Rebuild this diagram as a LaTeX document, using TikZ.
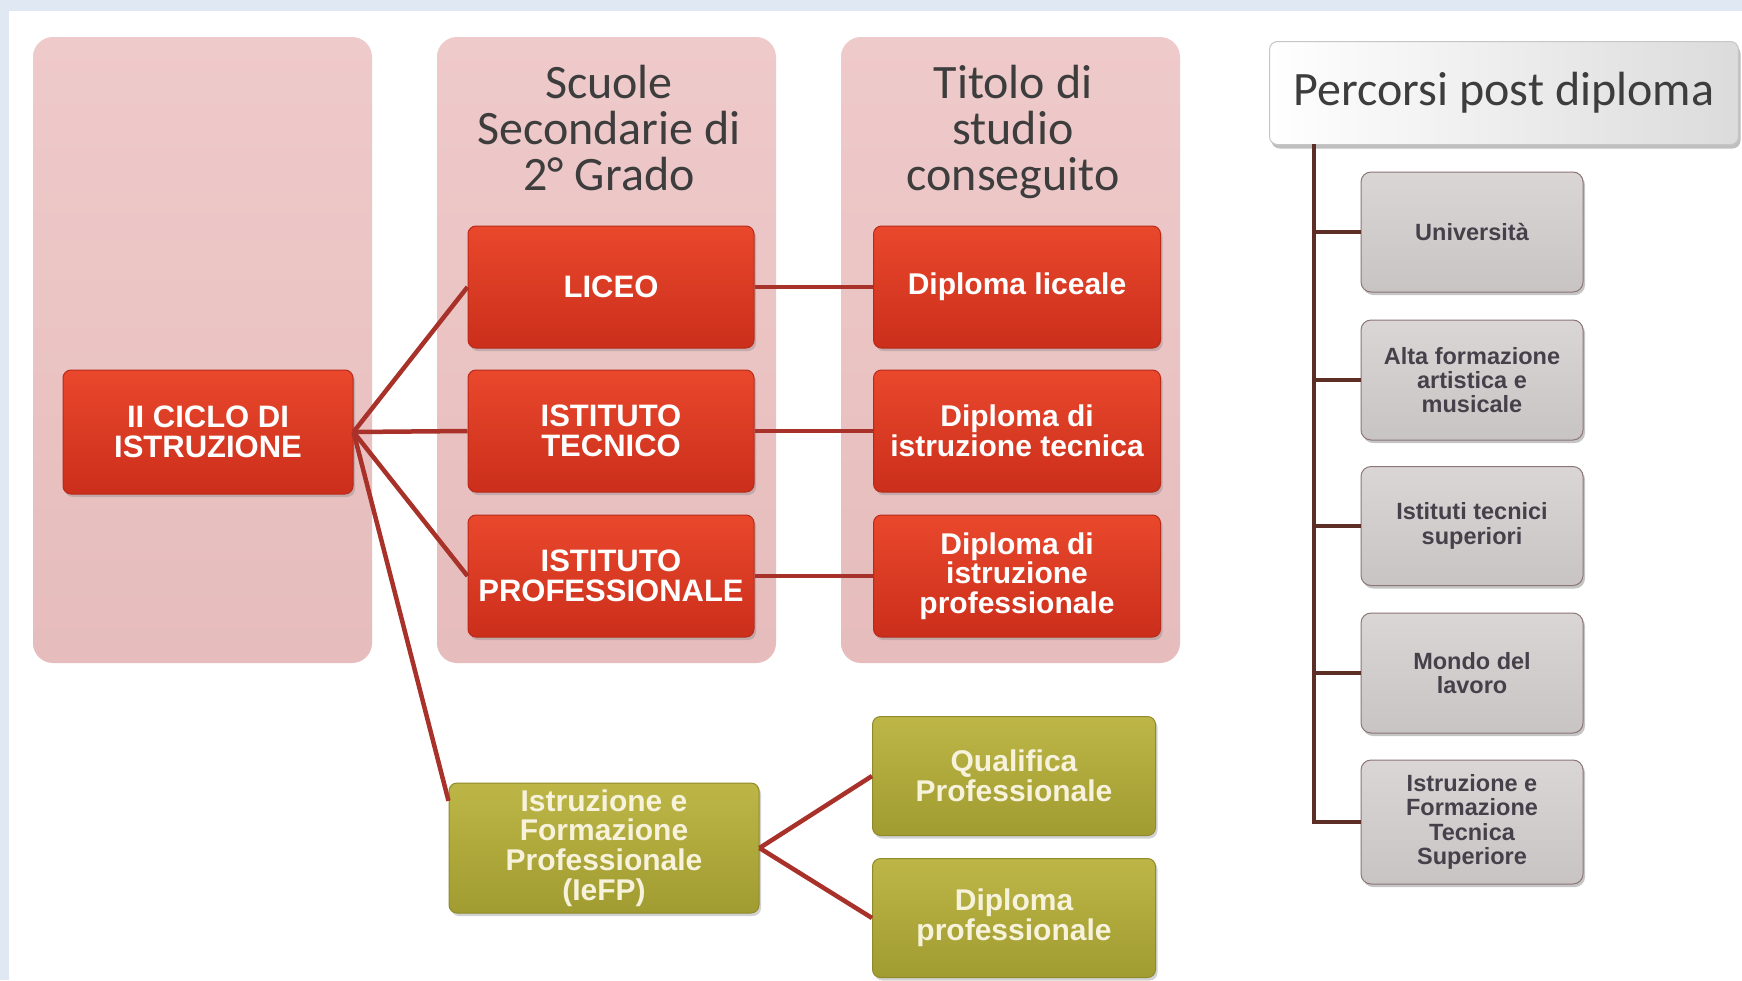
\documentclass[tikz,border=0pt]{standalone}
\usepackage{fontspec}
\newfontfamily\arialf{Liberation Sans}
\newfontfamily\calf{Carlito}
\usetikzlibrary{shadows,calc}
\definecolor{bgblue}{HTML}{E0E9F3}
\definecolor{panelT}{HTML}{EFCACA}
\definecolor{panelB}{HTML}{E6BCBC}
\definecolor{redT}{HTML}{E9482C}
\definecolor{redB}{HTML}{CB2E1B}
\definecolor{redE}{HTML}{B82A1A}
\definecolor{oliveT}{HTML}{BDB647}
\definecolor{oliveB}{HTML}{A19C31}
\definecolor{oliveE}{HTML}{8F8A2A}
\definecolor{connred}{HTML}{A8322A}
\definecolor{treebrown}{HTML}{5C2E26}
\definecolor{grayT}{HTML}{DAD6D6}
\definecolor{grayB}{HTML}{C9C4C4}
\definecolor{grayE}{HTML}{8C7676}
\definecolor{titlegray}{HTML}{3D3D3D}
\definecolor{boxtext}{HTML}{45404A}
\definecolor{creamtext}{HTML}{F6F2DC}
\tikzset{
  panel/.style={rounded corners=20pt, top color=panelT, bottom color=panelB, draw=none,
    minimum width=339pt, minimum height=626pt},
  title/.style={align=center, text=titlegray, font=\calf\fontsize{48}{46}\selectfont},
  rbox/.style={rounded corners=8pt, top color=redT, bottom color=redB, draw=redE, line width=1pt,
    minimum width=286pt, minimum height=122pt, align=center, text=white, inner sep=2pt,
    font=\arialf\bfseries\fontsize{30}{29.5}\selectfont,
    drop shadow={shadow xshift=2pt, shadow yshift=-3pt, opacity=0.35}},
  obox/.style={rounded corners=8pt, top color=oliveT, bottom color=oliveB, draw=oliveE, line width=1pt,
    minimum width=283pt, minimum height=119pt, align=center, text=creamtext, inner sep=2pt,
    font=\arialf\bfseries\fontsize{30}{29.6}\selectfont,
    drop shadow={shadow xshift=2pt, shadow yshift=-3pt, opacity=0.35}},
  gbox/.style={rounded corners=10pt, top color=grayT, bottom color=grayB, draw=grayE, line width=1pt,
    minimum width=222pt, minimum height=118pt, align=center, text=boxtext, inner sep=2pt,
    font=\arialf\bfseries\fontsize{23.5}{24.2}\selectfont,
    drop shadow={shadow xshift=2pt, shadow yshift=-3pt, opacity=0.45}},
  pbox/.style={rounded corners=8pt, left color=white, right color=gray!28, draw=gray!45, line width=1pt,
    minimum width=469pt, minimum height=103pt, align=center, text=titlegray,
    font=\calf\fontsize{48}{46}\selectfont,
    drop shadow={shadow xshift=2pt, shadow yshift=-4pt, opacity=0.5}},
  conn/.style={draw=connred, line width=4.5pt},
  tree/.style={draw=treebrown, line width=4.5pt}
}
\begin{document}
\begin{tikzpicture}[x=1pt,y=-1pt]
\useasboundingbox (0,0) rectangle (1742,980);
\fill[bgblue] (0,0) rectangle (1742,980);
\fill[white] (9,11) rectangle (1742,980);

% panels
\node[panel] (p1) at (202.5,350) {};
\node[panel] (p2) at (606.5,350) {};
\node[panel] (p3) at (1010.5,350) {};
\node[title] (t2) at (609,128) {Scuole\\Secondarie di\\2° Grado};
\node[title] (t3) at (1013,132) {Titolo di\\studio\\conseguito};

% red boxes
\node[rbox, minimum width=290pt, minimum height=124pt, font=\arialf\bfseries\fontsize{31}{29.5}\selectfont] (ciclo) at (208,432) {II CICLO DI\\ISTRUZIONE};
\node[rbox, font=\arialf\bfseries\fontsize{31}{29.5}\selectfont] (liceo) at (611,287) {LICEO};
\node[rbox, font=\arialf\bfseries\fontsize{31}{29.5}\selectfont] (itec) at (611,431) {ISTITUTO\\TECNICO};
\node[rbox, font=\arialf\bfseries\fontsize{31}{29.5}\selectfont] (iprof) at (611,576) {ISTITUTO\\PROFESSIONALE};
\node[rbox, minimum width=287pt] (dlic) at (1017,287) {Diploma liceale};
\node[rbox, minimum width=287pt] (dtec) at (1017,431) {Diploma di\\istruzione tecnica};
\node[rbox, minimum width=287pt] (dprof) at (1017,576) {Diploma di\\istruzione\\professionale};

% olive boxes
\node[obox, minimum width=310pt, minimum height=130pt] (ief) at (604,848) {Istruzione e\\Formazione\\Professionale\\(IeFP)};
\node[obox] (qual) at (1014,776) {Qualifica\\Professionale};
\node[obox] (dpro2) at (1014,918) {Diploma\\professionale};

% connectors (left)
\draw[conn] (ciclo.east) -- (liceo.west);
\draw[conn] (ciclo.east) -- (itec.west);
\draw[conn] (ciclo.east) -- (iprof.west);
\draw[conn] (ciclo.east) -- ($(ief.north west)!0.14!(ief.south west)$);
\draw[conn] (liceo.east) -- (dlic.west);
\draw[conn] (itec.east) -- (dtec.west);
\draw[conn] (iprof.east) -- (dprof.west);
\draw[conn] (ief.east) -- (qual.west);
\draw[conn] (ief.east) -- (dpro2.west);

% right tree
\node[pbox] (perc) at (1504,93) {Percorsi post diploma};
\node[gbox, minimum height=120pt] (g1) at (1472,232) {Università};
\node[gbox, minimum height=120pt] (g2) at (1472,380) {Alta formazione\\artistica e\\musicale};
\node[gbox, minimum height=119pt] (g3) at (1472,526) {Istituti tecnici\\superiori};
\node[gbox, minimum height=120pt] (g4) at (1472,673) {Mondo del\\lavoro};
\node[gbox, minimum height=124pt] (g5) at (1472,822) {Istruzione e\\Formazione\\Tecnica\\Superiore};
\coordinate (trunk) at (1314,144);
\draw[tree] (trunk) -- (trunk |- g5.west) -- (g5.west);
\draw[tree] (trunk |- g1.west) -- (g1.west);
\draw[tree] (trunk |- g2.west) -- (g2.west);
\draw[tree] (trunk |- g3.west) -- (g3.west);
\draw[tree] (trunk |- g4.west) -- (g4.west);
\end{tikzpicture}
\end{document}
